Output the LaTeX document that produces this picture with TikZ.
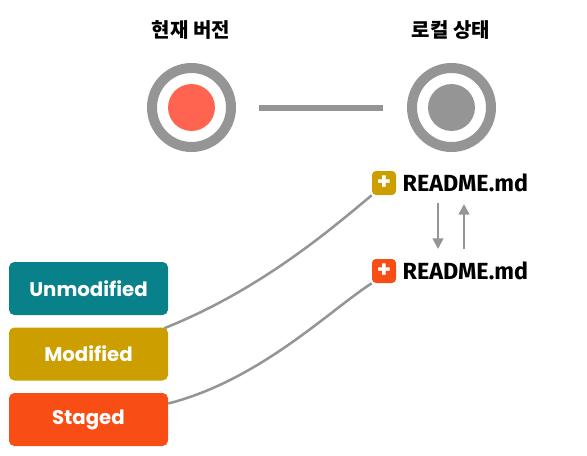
\documentclass[tikz,border=0pt]{standalone}
\usepackage{fontspec}
\setmainfont{Fira Sans}
\newfontfamily\kofont{Noto Sans CJK KR}
\newfontfamily\boxfont{Poppins}
\usetikzlibrary{arrows.meta}
\definecolor{ringgray}{HTML}{959595}
\definecolor{curred}{HTML}{FF6450}
\definecolor{unmodteal}{HTML}{08818A}
\definecolor{modgold}{HTML}{CC9E00}
\definecolor{stagedorange}{HTML}{F84E16}
\tikzset{
  title/.style={font=\kofont\bfseries\fontsize{15}{18}\selectfont},
  ring/.style={circle,draw=ringgray,line width=7.5pt,minimum size=59.25pt,inner sep=0pt},
  statebox/.style={rounded corners=4pt,minimum width=119.25pt,minimum height=39.75pt,text=white,font=\boxfont\bfseries\fontsize{14.8}{17}\selectfont},
  badge/.style={rounded corners=3pt,minimum size=18pt,inner sep=0pt,text=white,font=\boxfont\bfseries\fontsize{17}{17}\selectfont},
  fname/.style={anchor=west,font=\bfseries\fontsize{17.5}{20}\selectfont},
  link/.style={ringgray,line width=1.9pt},
}
\begin{document}
\begin{tikzpicture}[x=0.75pt,y=-0.75pt]
\useasboundingbox (0,0) rectangle (587,455);
% versions
\node[title] (curt) at (191,30) {현재 버전};
\node[title] (loct) at (451,30) {로컬 상태};
\node[ring] (cur) at (191.5,107.5) {};
\node[ring] (loc) at (451.5,107.5) {};
\fill[curred] (cur) circle (17.6pt);
\fill[ringgray] (loc) circle (17.6pt);
\draw[ringgray,line width=4.5pt] (259,108) -- (383,108);
% files
\node[badge,fill=modgold] (b1) at (384,183) {+};
\node[fname] (f1) at (398,183) {README.md};
\node[badge,fill=stagedorange] (b2) at (384,271) {+};
\node[fname] (f2) at (398,271) {README.md};
\draw[link,-{Triangle[length=8pt,width=8pt]}] (438,203) -- (438,249);
\draw[link,-{Triangle[length=8pt,width=8pt]}] (464,249) -- (464,204);
% states
\node[statebox,fill=unmodteal] (unmod) at (88.5,288.5) {Unmodified};
\node[statebox,fill=modgold] (mod) at (88.5,354) {Modified};
\node[statebox,fill=stagedorange] (staged) at (88.5,419.5) {Staged};
\draw[link] (mod.north east) ++(-4,1) .. controls (260,290) and (330,230) .. (b1.south west);
\draw[link] (staged.east) ++(0,-16) .. controls (260,380) and (330,310) .. (b2.south west);
\end{tikzpicture}
\end{document}
